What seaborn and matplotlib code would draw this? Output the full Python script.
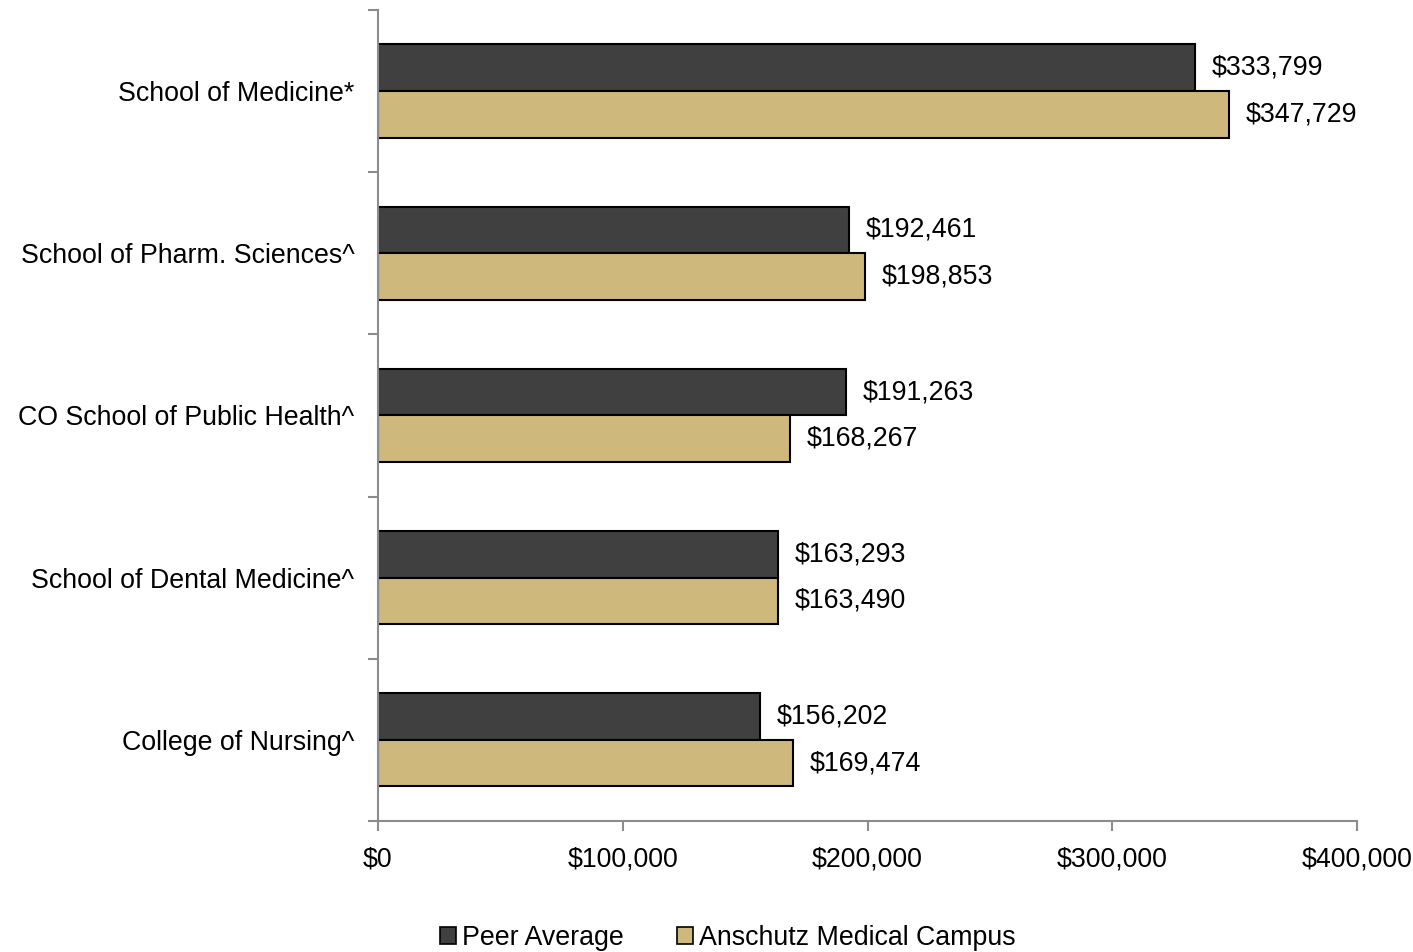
import pandas as pd
import numpy as np
import seaborn as sns
import matplotlib.pyplot as plt
import matplotlib.patches as mpatches
from matplotlib.ticker import FuncFormatter, FixedLocator

### Data
schools = ["School of Medicine*", "School of Pharm. Sciences^",
           "CO School of Public Health^", "School of Dental Medicine^",
           "College of Nursing^"]
peer_avg = [333799, 192461, 191263, 163293, 156202]
anschutz = [347729, 198853, 168267, 163490, 169474]
series = ["Peer Average", "Anschutz Medical Campus"]
colors = ["#404040", "#CFB87C"]

df = pd.DataFrame({
    "school": schools * 2,
    "salary": peer_avg + anschutz,
    "group": [series[0]] * len(schools) + [series[1]] * len(schools),
})

sns.set_style("white")
plt.rcParams["font.family"] = ["Liberation Sans", "DejaVu Sans"]
plt.rcParams["text.color"] = "black"
plt.rcParams["xtick.labelcolor"] = "black"
plt.rcParams["ytick.labelcolor"] = "black"

fs = 19.3

fig = plt.figure(figsize=(14.13, 9.52), dpi=100)
ax = fig.add_axes([0.2675, 0.1376, 0.6929, 0.852])

sns.barplot(data=df, y="school", x="salary", hue="group", order=schools,
            hue_order=series, palette=colors, orient="h", width=0.574,
            edgecolor="black", linewidth=1.5, saturation=1, ax=ax,
            legend=False)

# value labels
for cont in ax.containers:
    ax.bar_label(cont, labels=["${:,.0f}".format(v) for v in cont.datavalues],
                 padding=12, fontsize=fs, color="black")

ax.set_xlim(0, 400000)
ax.set_ylim(4.5, -0.5)
ax.set_xticks([0, 100000, 200000, 300000, 400000])
ax.xaxis.set_major_formatter(FuncFormatter(lambda v, p: "${:,.0f}".format(v)))
ax.set_xlabel("")
ax.set_ylabel("")

# ticks between categories
ax.yaxis.set_minor_locator(FixedLocator(np.arange(-0.5, 5, 1)))
ax.tick_params(axis="y", which="major", length=0, pad=17, labelsize=fs,
               labelcolor="black")
ax.tick_params(axis="y", which="minor", left=True, length=7, width=1.5,
               color="#8c8c8c", direction="out")
ax.tick_params(axis="x", which="major", bottom=True, length=7, width=1.5,
               color="#8c8c8c", direction="out", pad=11, labelsize=fs,
               labelcolor="black")

sns.despine(ax=ax, top=True, right=True)
for s in ["left", "bottom"]:
    ax.spines[s].set_color("#8c8c8c")
    ax.spines[s].set_linewidth(1.5)

handles = [mpatches.Patch(facecolor=c, edgecolor="black", linewidth=1.2, label=l)
           for c, l in zip(colors, series)]
fig.legend(handles=handles, loc="lower center", bbox_to_anchor=(0.515, -0.024),
           ncol=2, frameon=False, fontsize=fs, handlelength=0.6,
           handleheight=0.6, handletextpad=0.2, columnspacing=2.0)

fig.savefig("out.png", dpi=100)
